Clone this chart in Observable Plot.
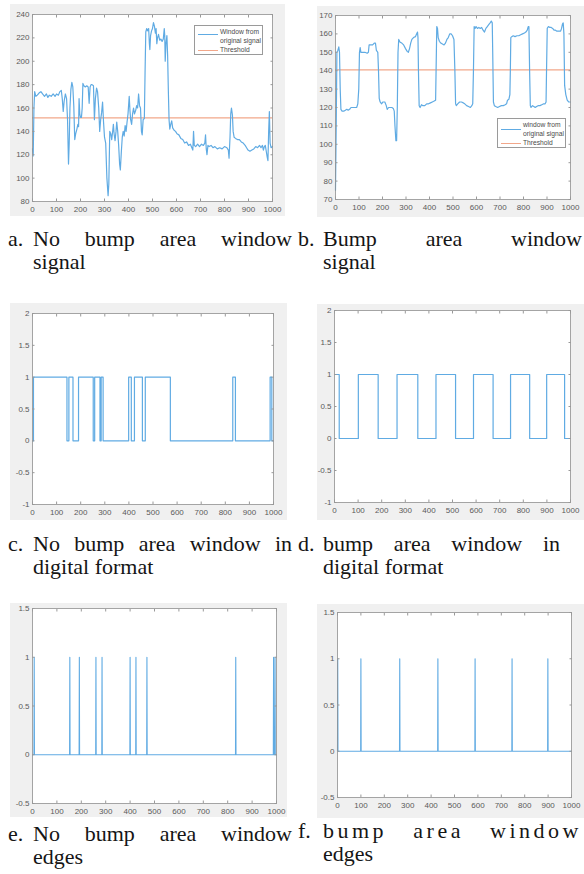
<!DOCTYPE html>
<html><head><meta charset="utf-8">
<script src="https://cdn.jsdelivr.net/npm/d3@7"></script>
<script src="https://cdn.jsdelivr.net/npm/@observablehq/plot@0.6"></script>
<style>
body{margin:0;background:#fff;}
#root{position:relative;width:584px;height:874px;overflow:hidden;background:#fff;}
.panel{position:absolute;background:#f0f0f0;}
.panel svg{display:block;}
.cap{position:absolute;font-family:"Liberation Serif","DejaVu Serif","Times New Roman",serif;font-size:22px;color:#151515;line-height:22px;}
.cap .lab{position:absolute;left:0;top:0;}
.cap .l1{position:absolute;top:0;text-align:justify;text-align-last:justify;white-space:normal;}
.cap .l2{position:absolute;top:23.5px;white-space:nowrap;}
.legend{position:absolute;background:#fff;border:0.8px solid #9a9a9a;font-family:"Liberation Sans",Arial,sans-serif;font-size:6.7px;color:#4a4a4a;line-height:8px;}
.legend div{position:absolute;white-space:nowrap;}
</style></head>
<body><div id="root"></div>
<script>
// ---------- data ----------
const xTicks = [0,100,200,300,400,500,600,700,800,900,1000];
const yTicksA = [80,100,120,140,160,180,200,220,240];
const yTicksB = [70,80,90,100,110,120,130,140,150,160,170];
const yTicksCD = [-1,-0.5,0,0.5,1,1.5,2];
const yTicksEF = [-0.5,0,0.5,1,1.5];

const thresholdA = 151.5;
const thresholdB = 140.5;

// a. no bump area window signal  [sample, value]
const signalA = [
[0,125],[3,119],[6,160],[9,174],[14,170],[20,171],[28,173],[35,174],[42,172],[50,170],[58,172],[64,169],[70,171],[78,170],[86,172],[94,170],[100,172],[108,171],[114,174],[120,175],[124,168],[128,157],[132,166],[137,172],[142,168],[146,150],[150,112],[153,130],[156,160],[160,176],[164,182],[168,178],[172,162],[176,133],[180,138],[185,142],[189,146],[192,144],[194,168],[197,155],[200,152],[204,152],[207,160],[210,181],[214,179],[220,178],[226,179],[232,178],[236,164],[240,178],[244,180],[248,180],[254,179],[258,150],[262,168],[267,177],[271,174],[276,160],[280,140],[284,150],[288,156],[292,165],[296,148],[300,135],[305,130],[310,100],[315,85],[318,95],[322,140],[326,138],[330,133],[334,140],[337,146],[340,138],[344,132],[348,140],[351,148],[355,140],[359,128],[363,112],[366,107],[370,122],[374,135],[378,140],[382,136],[386,145],[390,140],[394,148],[398,155],[403,170],[406,158],[409,150],[413,146],[417,155],[421,160],[425,155],[430,158],[434,162],[438,160],[442,172],[446,162],[450,160],[454,140],[457,137],[461,150],[466,151],[469,190],[472,225],[476,228],[480,226],[484,228],[487,215],[489,210],[492,222],[496,226],[500,228],[504,233],[508,230],[512,224],[515,228],[518,215],[521,220],[525,223],[530,218],[535,219],[540,217],[545,219],[549,228],[551,222],[553,200],[556,215],[560,222],[563,205],[566,175],[569,150],[572,142],[576,146],[580,149],[584,143],[590,141],[596,140],[602,138],[610,137],[618,134],[626,133],[634,130],[642,131],[650,128],[658,129],[664,126],[668,124],[671,140],[674,128],[680,127],[688,129],[696,127],[704,129],[712,128],[718,130],[721,137],[724,125],[727,120],[731,128],[736,127],[744,128],[752,126],[760,127],[770,125],[780,126],[790,125],[800,127],[810,126],[816,124],[819,117],[823,135],[826,155],[829,160],[833,154],[836,140],[840,135],[846,134],[854,133],[862,133],[870,131],[878,130],[886,128],[892,126],[898,124],[906,123],[914,124],[922,125],[930,127],[938,126],[946,128],[952,126],[958,128],[962,124],[966,127],[970,128],[974,123],[978,118],[981,115],[984,140],[987,157],[990,130],[994,126],[1000,127]
];

// b. bump area window signal
const signalB = [
[0,75],[3,110],[6,150],[10,151],[14,153],[17,150],[20,130],[23,119],[28,118],[35,118],[42,118.5],[48,119],[54,118.5],[60,119],[66,120],[74,120],[82,120],[90,120],[95,122],[99,130],[102,150],[105,152.5],[108,150],[115,150],[125,150],[135,149.5],[140,150],[143,154],[150,154],[158,154],[165,155],[170,155],[174,151],[180,150],[183,140],[186,125],[190,123],[196,122],[202,123],[210,123],[216,121],[220,119],[226,120],[232,120],[240,120],[246,119.5],[250,118],[253,110],[257,102],[260,102],[263,120],[266,150],[269,157],[275,155.5],[282,155],[290,154],[298,152],[305,150.5],[310,150],[315,152],[320,155],[325,157],[332,158],[340,158.5],[345,160],[349,161],[351,158],[353,140],[356,121],[360,120],[366,121.5],[372,121],[380,121],[388,122],[396,122],[404,122.5],[412,123],[420,123.5],[426,124],[428,140],[431,164],[434,163],[437,158],[442,156],[448,155],[455,154.5],[462,154],[468,155],[474,157],[480,158],[486,160],[492,160],[498,159],[504,157],[508,140],[511,122],[514,121],[520,122],[528,123],[536,123],[544,122.5],[550,122],[558,121],[566,120.5],[574,120],[580,121],[584,122],[587,140],[590,164],[594,163],[598,164],[604,163],[610,163.5],[616,163],[622,163.5],[628,162],[634,161],[640,163],[646,164],[652,165],[658,166],[663,167],[667,166],[669,150],[672,123],[676,121],[682,120.5],[690,120],[698,120.5],[706,121],[714,121],[722,121.5],[728,122],[732,124],[738,124.5],[742,127],[744,140],[746,158],[750,158.5],[756,159],[764,158.5],[772,159],[780,159],[788,159.5],[796,160],[804,160.5],[810,161],[816,162],[820,164],[823,164],[826,140],[829,121],[832,120],[838,121],[844,120.5],[850,120],[856,120.5],[862,121],[870,121],[878,121.5],[886,122],[892,122],[896,123],[898,140],[901,163],[906,164],[912,163.5],[918,163.5],[924,163],[930,162],[936,162],[942,161.5],[950,161.5],[958,161.5],[962,163],[966,165.5],[969,166],[972,160],[975,132],[980,127],[986,124],[992,123],[1000,123]
];

// c. digital format of a: [sample where level starts, level]
const digitalC = [
[0,0],[4,1],[143,0],[151,1],[168,0],[191,1],[252,0],[258,1],[280,0],[285,1],[293,0],[399,1],[410,0],[423,1],[456,0],[468,1],[572,0],[831,1],[842,0],[986,1],[993,0],[1000,0]
];
// d. digital format of b
const digitalD = [
[0,1],[20,0],[101,1],[185,0],[265,1],[353,0],[430,1],[513,0],[589,1],[672,0],[746,1],[827,0],[899,1],[975,0],[1000,0]
];
// e / f. edge samples (value 1), all others 0
const edgesE = [7,153,192,260,285,400,424,469,833,988,994];
const edgesF = [1,100,266,429,588,746,899];

const legendA = ["Window from", "original signal", "Threshold"];
const legendB = ["window from", "original signal", "Threshold"];

const captions = [
  {id:"a", lab:"a.", l1:"No bump area window", l2:"signal"},
  {id:"b", lab:"b.", l1:"Bump area window", l2:"signal"},
  {id:"c", lab:"c.", l1:"No bump area window in", l2:"digital format"},
  {id:"d", lab:"d.", l1:"bump area window in", l2:"digital format"},
  {id:"e", lab:"e.", l1:"No bump area window", l2:"edges"},
  {id:"f", lab:"f.", l1:"bump area window", l2:"edges"}
];

// ---------- styling ----------
const BLUE = "#60abe3";
const ORANGE = "#f2a78a";
const root = document.getElementById("root");

function edgeLine(edges) {
  const pts = [[0,0]];
  for (const e of edges) { pts.push([Math.max(0,e-1),0],[e,1],[e+1,0]); }
  pts.push([1000,0]);
  return pts;
}

function makePanel({box, m, yDomain, yTicks, marks}) {
  const div = document.createElement("div");
  div.className = "panel";
  Object.assign(div.style, {left: box[0]+"px", top: box[1]+"px", width: box[2]+"px", height: box[3]+"px"});
  const fmt = d => String(d);
  const chart = Plot.plot({
    width: box[2], height: box[3],
    marginTop: m[0], marginRight: m[1], marginBottom: m[2], marginLeft: m[3],
    style: {background: "transparent", fontFamily: "'Liberation Sans', Arial, sans-serif", fontSize: "8px", color: "#5a5a5a", overflow: "visible"},
    x: {domain: [0,1000]},
    y: {domain: yDomain},
    marks: [
      Plot.frame({fill: "white", stroke: "none"}),
      ...marks,
      Plot.frame({stroke: "#8f8f8f", strokeWidth: 0.8}),
      Plot.axisX(xTicks, {anchor: "bottom", tickSize: -2.5, tickPadding: 7.5, tickFormat: fmt, label: null, stroke: "#999", fill: "#5a5a5a"}),
      Plot.axisX(xTicks, {anchor: "top", tickSize: -2.5, tickFormat: () => "", label: null, stroke: "#999"}),
      Plot.axisY(yTicks, {anchor: "left", tickSize: -2.5, tickPadding: 5.5, tickFormat: fmt, label: null, stroke: "#999", fill: "#5a5a5a"}),
      Plot.axisY(yTicks, {anchor: "right", tickSize: -2.5, tickFormat: () => "", label: null, stroke: "#999"})
    ]
  });
  div.appendChild(chart);
  root.appendChild(div);
}

const X = d => d[0], Y = d => d[1];

makePanel({box:[10,4,275,212], m:[10,13,15,22], yDomain:[80,240], yTicks:yTicksA, marks:[
  Plot.ruleY([thresholdA], {stroke: ORANGE, strokeWidth: 1.2}),
  Plot.line(signalA, {x: X, y: Y, stroke: BLUE, strokeWidth: 1.2})
]});
makePanel({box:[317,6,267,211], m:[9,14,18,18], yDomain:[70,170], yTicks:yTicksB, marks:[
  Plot.ruleY([thresholdB], {stroke: ORANGE, strokeWidth: 1.2}),
  Plot.line(signalB, {x: X, y: Y, stroke: BLUE, strokeWidth: 1.2})
]});
makePanel({box:[10,303,277,217], m:[10,14,16,22], yDomain:[-1,2], yTicks:yTicksCD, marks:[
  Plot.line(digitalC, {x: X, y: Y, curve: "step-after", stroke: BLUE, strokeWidth: 1.2})
]});
makePanel({box:[317,304,267,216], m:[6,14,18,17], yDomain:[-1,2], yTicks:yTicksCD, marks:[
  Plot.line(digitalD, {x: X, y: Y, curve: "step-after", stroke: BLUE, strokeWidth: 1.2})
]});
makePanel({box:[10,603,277,214], m:[5,11,14,22], yDomain:[-0.5,1.5], yTicks:yTicksEF, marks:[
  Plot.line(edgeLine(edgesE), {x: X, y: Y, stroke: BLUE, strokeWidth: 1.1})
]});
makePanel({box:[317,604,267,214], m:[8,13,21,20], yDomain:[-0.5,1.5], yTicks:yTicksEF, marks:[
  Plot.line(edgeLine(edgesF), {x: X, y: Y, stroke: BLUE, strokeWidth: 1.1})
]});

// legends
function legend(left, top, labels, rows) {
  const d = document.createElement("div");
  d.className = "legend";
  Object.assign(d.style, {left: left+"px", top: top+"px", width: "67px", height: "28px"});
  d.innerHTML =
    `<div style="left:3px;top:${rows[0]}px;width:20px;border-top:1.2px solid ${BLUE}"></div>` +
    `<div style="left:25px;top:2px">${labels[0]}</div>` +
    `<div style="left:25px;top:11px">${labels[1]}</div>` +
    `<div style="left:3px;top:${rows[1]}px;width:20px;border-top:1.2px solid ${ORANGE}"></div>` +
    `<div style="left:25px;top:19.5px">${labels[2]}</div>`;
  root.appendChild(d);
}
legend(194, 25, legendA, [8, 23.5]);
legend(497, 118, legendB, [9.5, 23.5]);

// captions
const capPos = {
  a: {left: 8, top: 227.5, w1: 259},
  b: {left: 298, top: 227.5, w1: 259},
  c: {left: 8, top: 532.5, w1: 259},
  d: {left: 298, top: 532.5, w1: 237},
  e: {left: 8, top: 822.5, w1: 259},
  f: {left: 298, top: 819.5, w1: 259, ls: 3.5}
};
for (const c of captions) {
  const p = capPos[c.id];
  const d = document.createElement("div");
  d.className = "cap";
  Object.assign(d.style, {left: p.left+"px", top: p.top+"px", width: (25 + p.w1)+"px", height: "46px"});
  const ls = p.ls ? `letter-spacing:${p.ls}px;` : "";
  d.innerHTML = `<span class="lab">${c.lab}</span>` +
    `<div class="l1" style="left:25px;width:${p.w1}px;${ls}">${c.l1}</div>` +
    `<div class="l2" style="left:25px">${c.l2}</div>`;
  root.appendChild(d);
}
</script>
</body></html>
